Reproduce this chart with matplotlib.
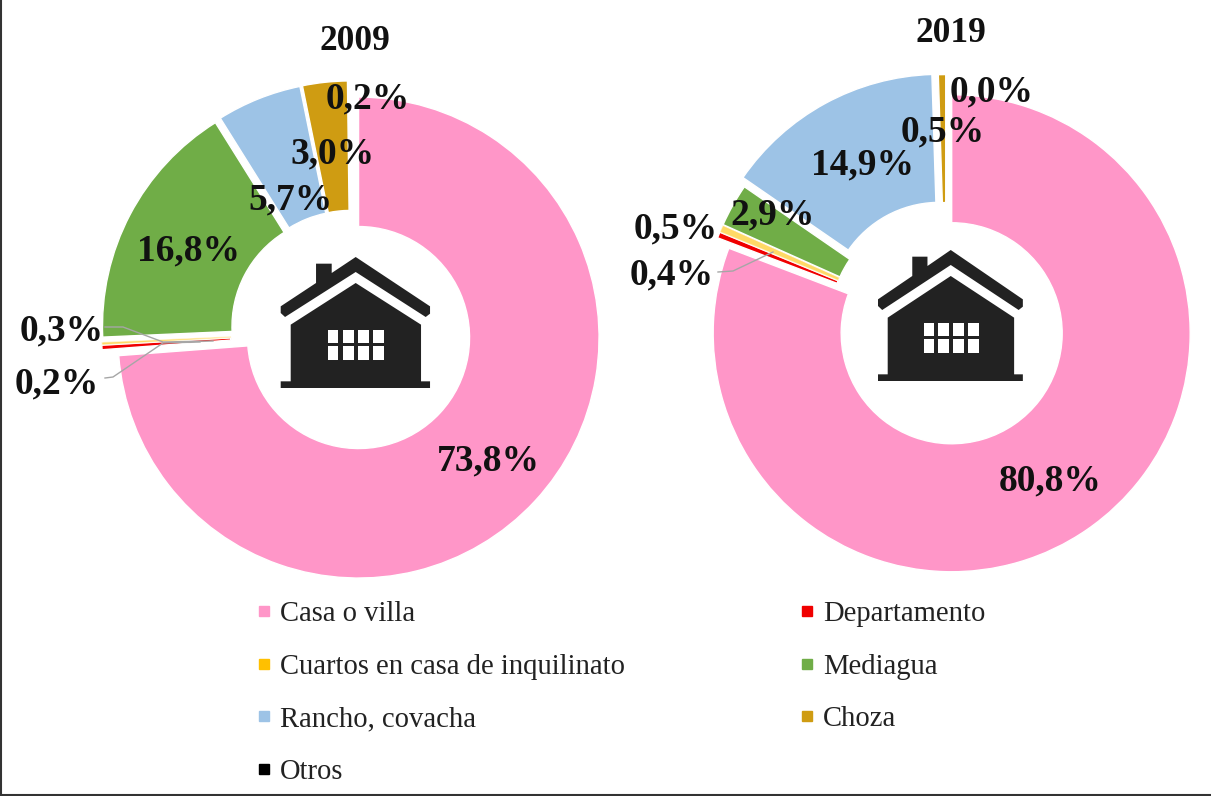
import matplotlib
matplotlib.use("Agg")
import matplotlib.pyplot as plt
from matplotlib.lines import Line2D
from matplotlib.patches import Polygon

plt.rcParams['font.family'] = ['Liberation Serif', 'DejaVu Serif']

categories = ["Casa o villa", "Departamento", "Cuartos en casa de inquilinato",
              "Mediagua", "Rancho, covacha", "Choza", "Otros"]
values_2009 = [73.8, 0.3, 0.2, 16.8, 5.7, 3.0, 0.2]
values_2019 = [80.8, 0.4, 0.5, 2.9, 14.9, 0.5, 0.0]
colors = ["#FF96C8", "#F00000", "#FFC000", "#70AD47", "#9DC3E6", "#CF9C12", "#000000"]
titles = ["2009", "2019"]

W, H = 1211, 796
fig = plt.figure(figsize=(W / 100, H / 100), dpi=100, facecolor="white")


def donut(vals, cx, cy, r, expl, inner):
    pad = 1.3
    ax = fig.add_axes([(cx - pad * r) / W, (H - cy - pad * r) / H, 2 * pad * r / W, 2 * pad * r / H])
    wedges, _ = ax.pie(vals, colors=colors, startangle=90, counterclock=False, radius=1,
                       explode=expl,
                       wedgeprops=dict(width=1 - inner / r, edgecolor="white", linewidth=1.0))
    wedges[2].set_alpha(0.6)          # the thin yellow band reads pale in the reference
    wedges[6].set_facecolor("white")  # the "Otros" sliver does not show in the reference
    ax.set_xlim(-pad, pad)
    ax.set_ylim(-pad, pad)
    ax.set_zorder(1)
    return ax


donut(values_2009, 351.5, 331, 240.5, [0.040] * 7, 111)
donut(values_2019, 946, 325, 238.5, [0.042, 0.025, 0.025, 0.025, 0.058, 0.05, 0.05], 110.5)

ov = fig.add_axes([0, 0, 1, 1], facecolor="none")
ov.set_xlim(0, W)
ov.set_ylim(H, 0)
ov.axis("off")
ov.set_zorder(3)

# frame (left and bottom edges only)
ov.plot([1, 1, W], [0, 794.7, 794.7], color="#333333", lw=1.5, clip_on=False, solid_joinstyle="miter")

# titles
ov.text(355, 42, titles[0], fontsize=25.5, fontweight="bold", ha="center", va="center", color="#111111")
ov.text(951, 33, titles[1], fontsize=25.5, fontweight="bold", ha="center", va="center", color="#111111")


def fmt(v):
    return f"{v:.1f}".replace(".", ",") + "%"


pos_2009 = [(488, 461), (62, 331), (57, 384), (189, 251), (290, 200), (333, 154), (368, 99)]
pos_2019 = [(1050, 481), (672, 275), (676, 229), (773, 215), (862, 165), (943, 132), (992, 92)]
for vals, pos in ((values_2009, pos_2009), (values_2019, pos_2019)):
    for v, (x, y) in zip(vals, pos):
        ov.text(x, y, fmt(v), fontsize=27, fontweight="bold", ha="center", va="center",
                color="#111111", zorder=5)

# leader lines
for xs, ys in (([105, 123, 163, 213], [327, 327, 342, 341]),
               ([105, 113, 163, 200], [378, 377, 343, 342]),
               ([718, 733, 773], [272, 271, 252])):
    ov.plot(xs, ys, color="#A6A6A6", lw=1.0, zorder=4)


# house icon
def house(x0, y0, sx):
    def P(pts):
        return [(x0 + (a - 62) / 3 * sx, y0 + (b - 52) / 3) for a, b in pts]
    ink = "#222222"
    roof = [(168, 72), (215, 72), (215, 100), (287, 52), (510, 200), (510, 222), (497, 232),
            (287, 97), (75, 232), (62, 220), (62, 200), (168, 130)]
    body = [(287, 130), (483, 255), (483, 425), (510, 425), (510, 445), (62, 445),
            (62, 425), (92, 425), (92, 255)]
    ov.add_patch(Polygon(P(roof), closed=True, color=ink, lw=0))
    ov.add_patch(Polygon(P(body), closed=True, color=ink, lw=0))
    for xa, xb in ((203, 235), (248, 282), (294, 328), (340, 373)):
        for ya, yb in ((272, 310), (320, 360)):
            ov.add_patch(Polygon(P([(xa, ya), (xb, ya), (xb, yb), (xa, yb)]), closed=True,
                                 color="white", lw=0))


house(280.7, 257, 1.0)
house(878, 250, 0.97)

# legend
order = [0, 2, 4, 6, 1, 3, 5]
handles = [Line2D([], [], linestyle="none", marker="s", markersize=7, color=colors[i],
                  label=categories[i]) for i in order]
leg = ov.legend(handles=handles, ncol=2, frameon=False, fontsize=20.6, labelcolor="#222222",
                loc="upper left", bbox_to_anchor=(250 / W, 1 - 601 / H), bbox_transform=fig.transFigure,
                borderpad=0, borderaxespad=0, handlelength=1.0, handletextpad=0.06,
                labelspacing=0.93, columnspacing=5.85)

fig.savefig("out.png", dpi=100)
